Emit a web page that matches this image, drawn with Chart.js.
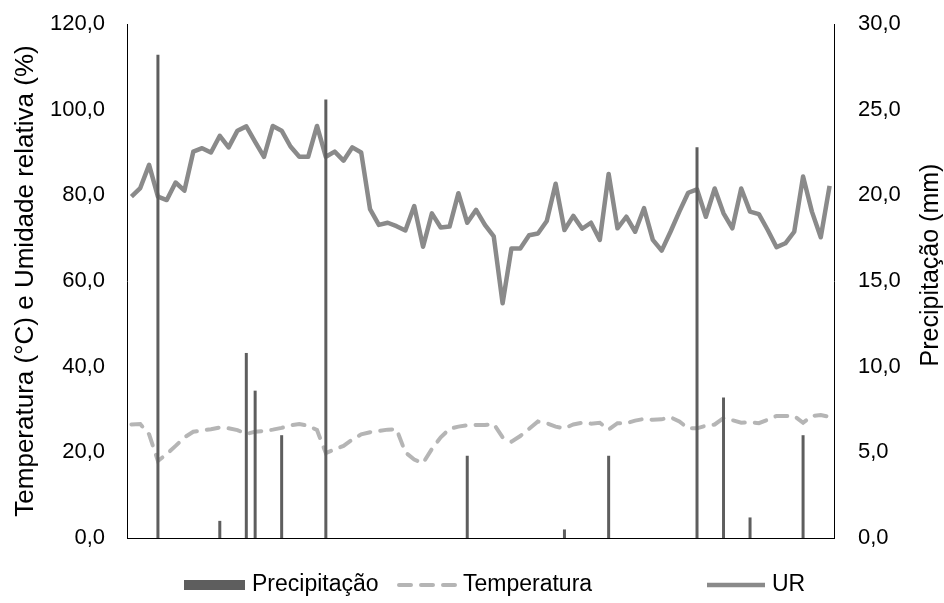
<!DOCTYPE html>
<html>
<head>
<meta charset="utf-8">
<script src="https://cdn.jsdelivr.net/npm/chart.js@4.4.1/dist/chart.umd.min.js"></script>
<style>
  body { margin: 0; background: #fff; }
  #wrap { width: 944px; height: 603px; }
</style>
</head>
<body>
<div id="wrap"><canvas id="myChart"></canvas></div>
<script>
// dias de observação (sem rótulos no eixo x)
const dias = [1,2,3,4,5,6,7,8,9,10,11,12,13,14,15,16,17,18,19,20,
    21,22,23,24,25,26,27,28,29,30,31,32,33,34,35,36,37,38,39,40,
    41,42,43,44,45,46,47,48,49,50,51,52,53,54,55,56,57,58,59,60,
    61,62,63,64,65,66,67,68,69,70,71,72,73,74,75,76,77,78,79,80];

// precipitação (mm) - eixo direito
const precipitacao = [0,0,0,28.2,0,0,0,0,0,0,1.0,0,0,10.8,8.6,0,0,6.0,0,0,
    0,0,25.6,0,0,0,0,0,0,0,0,0,0,0,0,0,0,0,4.8,0,
    0,0,0,0,0,0,0,0,0,0.5,0,0,0,0,4.8,0,0,0,0,0,
    0,0,0,0,22.8,0,0,8.2,0,0,1.2,0,0,0,0,0,6.0,0,0,0];

// temperatura (°C) - eixo esquerdo
const temperatura = [26.5,26.6,24.2,18.0,19.6,21.5,23.5,24.8,25.1,25.4,
    25.8,25.6,25.2,24.3,24.8,25.0,25.3,25.7,26.3,26.6,
    26.2,25.2,19.8,20.7,21.5,23.0,24.2,24.7,25.0,25.3,
    25.4,20.0,18.3,17.5,20.8,23.5,25.5,26.0,26.3,26.4,
    26.4,26.6,23.5,22.5,23.8,25.5,27.2,26.8,26.0,25.6,
    26.5,26.9,26.7,26.9,25.3,26.8,26.8,27.4,27.8,27.6,
    27.7,28.2,27.2,25.6,25.6,26.2,26.5,28.0,27.5,26.9,
    27.0,26.8,27.6,28.5,28.5,28.5,26.9,28.5,28.7,28.3];

// umidade relativa (%) - eixo esquerdo
const ur = [79.7,81.7,87.1,79.7,78.9,83.0,81.1,90.2,91.0,90.0,
    93.9,91.2,95.1,96.1,92.5,89.0,96.2,95.1,91.4,89.0,
    89.0,96.2,89.0,90.2,88.1,91.2,90.0,76.8,73.1,73.6,
    72.8,71.8,77.5,68.0,75.8,72.5,72.7,80.5,73.6,76.6,
    73.1,70.4,54.8,67.6,67.6,70.7,71.1,74.0,82.7,71.9,
    75.2,72.2,73.6,69.6,85.0,72.3,75.0,71.5,77.0,69.6,
    67.1,71.5,76.2,80.6,81.4,75.0,81.6,75.8,72.3,81.6,
    76.2,75.6,71.9,67.9,68.8,71.5,84.4,76.2,70.2,82.2];

// marcas dos eixos
const ticksEsq = [0, 20, 40, 60, 80, 100, 120];
const ticksDir = [0, 5, 10, 15, 20, 25, 30];

const fonte = 'Liberation Sans, Arial, sans-serif';
const fmt = v => v.toFixed(1).replace('.', ',');

// legenda e título do eixo direito desenhados à mão
const extras = {
    id: 'extras',
    afterDraw(chart) {
        const ctx = chart.ctx;
        const ds = chart.data.datasets;
        ctx.save();
        ctx.fillStyle = '#000';
        ctx.font = '25px ' + fonte;
        ctx.textAlign = 'center';
        ctx.textBaseline = 'middle';
        ctx.translate(931, 265);
        ctx.rotate(-Math.PI / 2);
        ctx.fillText('Precipitação (mm)', 0, 0);
        ctx.restore();

        const y = 585;
        ctx.save();
        ctx.fillStyle = ds[0].backgroundColor;
        ctx.fillRect(184, y - 5, 61, 10);

        ctx.strokeStyle = ds[1].borderColor;
        ctx.lineWidth = ds[1].borderWidth;
        ctx.lineCap = 'round';
        ctx.setLineDash(ds[1].borderDash);
        ctx.beginPath();
        ctx.moveTo(399, y);
        ctx.lineTo(456, y);
        ctx.stroke();

        ctx.setLineDash([]);
        ctx.lineCap = 'butt';
        ctx.strokeStyle = ds[2].borderColor;
        ctx.lineWidth = ds[2].borderWidth;
        ctx.beginPath();
        ctx.moveTo(707, y);
        ctx.lineTo(765, y);
        ctx.stroke();

        ctx.fillStyle = '#000';
        ctx.font = '23px ' + fonte;
        ctx.textBaseline = 'middle';
        ctx.fillText(ds[0].label, 252, y);
        ctx.fillText(ds[1].label, 463, y);
        ctx.fillText(ds[2].label, 772, y);
        ctx.restore();
    }
};

// largura fixa do eixo e sem folga extra em cima/baixo
const fixaEixo = w => s => {
    s.width = w;
    s.paddingTop = 13;
    s.paddingBottom = 13;
};

const ctx = document.getElementById('myChart').getContext('2d');

const myChart = new Chart(ctx, { // eslint-disable-line
    data: {
        labels: dias,
        datasets: [
            {
                type: 'bar',
                label: 'Precipitação',
                data: precipitacao,
                yAxisID: 'y2',
                backgroundColor: '#5e5e5e',
                barThickness: 3,
                inflateAmount: 0,
                order: 0
            },
            {
                type: 'line',
                label: 'Temperatura',
                data: temperatura,
                yAxisID: 'y',
                borderColor: '#b5b5b5',
                borderWidth: 4,
                borderDash: [12, 10],
                borderCapStyle: 'round',
                pointRadius: 0,
                tension: 0,
                order: 2
            },
            {
                type: 'line',
                label: 'UR',
                data: ur,
                yAxisID: 'y',
                borderColor: '#8a8a8a',
                borderWidth: 4.5,
                borderJoinStyle: 'round',
                pointRadius: 0,
                tension: 0,
                order: 1
            }
        ]
    },
    options: {
        responsive: true,
        maintainAspectRatio: false,
        animation: false,
        layout: { padding: { top: 24, left: 0, right: 0, bottom: 0 } },
        plugins: {
            legend: { display: false },
            tooltip: { enabled: false }
        },
        scales: {
            x: {
                type: 'category',
                offset: true,
                grid: { display: false, drawTicks: false },
                border: { display: true, color: '#000', width: 1 },
                ticks: { display: false },
                afterFit: s => { s.height = 65; }
            },
            y: {
                position: 'left',
                min: 0,
                max: 120,
                afterBuildTicks: s => { s.ticks = ticksEsq.map(v => ({ value: v })); },
                grid: { display: false, drawTicks: false },
                border: { display: true, color: '#000', width: 1 },
                ticks: {
                    padding: 22,
                    color: '#000',
                    font: { family: fonte, size: 22 },
                    callback: v => fmt(v)
                },
                title: {
                    display: true,
                    text: 'Temperatura (°C) e Umidade relativa (%)',
                    color: '#000',
                    font: { family: fonte, size: 26 },
                    padding: { top: 10, bottom: 0 }
                },
                afterFit: fixaEixo(127)
            },
            y2: {
                position: 'right',
                min: 0,
                max: 30,
                afterBuildTicks: s => { s.ticks = ticksDir.map(v => ({ value: v })); },
                grid: { display: false, drawTicks: false },
                border: { display: true, color: '#000', width: 1 },
                ticks: {
                    padding: 24,
                    color: '#000',
                    font: { family: fonte, size: 22 },
                    callback: v => fmt(v)
                },
                afterFit: fixaEixo(110)
            }
        }
    },
    plugins: [extras]
});
</script>
</body>
</html>
